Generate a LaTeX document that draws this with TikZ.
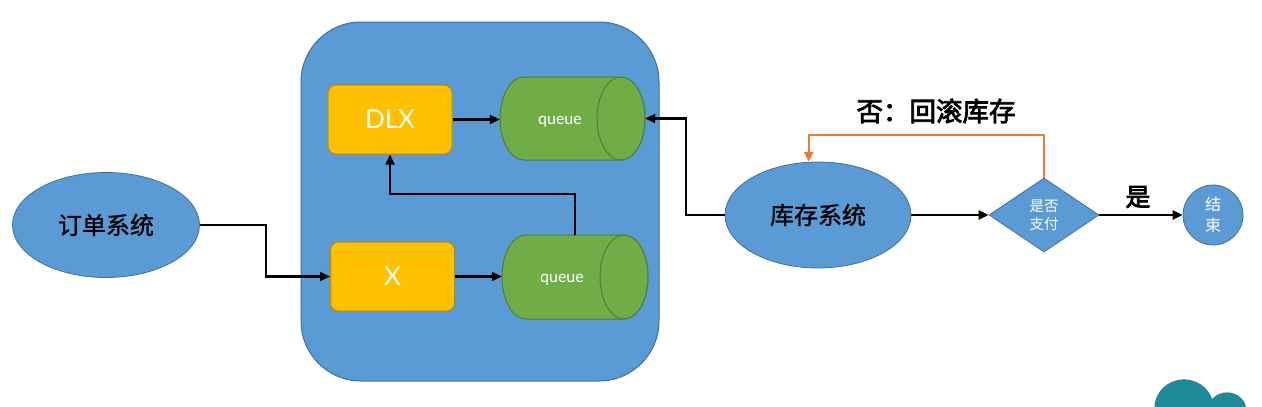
\documentclass[tikz,border=0pt]{standalone}
\usepackage{fontspec}
\setmainfont{Lato}
\newfontfamily\cjk{Noto Sans CJK SC}
\newfontfamily\cjkm{Noto Sans CJK SC}[FakeBold=1.2]
\newfontfamily\cjkb{Noto Sans CJK SC}[FakeBold=3]
\usetikzlibrary{shapes.geometric,arrows.meta,calc}
\definecolor{bfill}{HTML}{5B9BD5}
\definecolor{bdraw}{HTML}{41719C}
\definecolor{yfill}{HTML}{FFC000}
\definecolor{ydraw}{HTML}{BC8C00}
\definecolor{gfill}{HTML}{70AD47}
\definecolor{gdraw}{HTML}{507E32}
\definecolor{ocol}{HTML}{ED7D31}
\definecolor{teal}{HTML}{1F8A9A}
\begin{document}
\begin{tikzpicture}[x=1pt,y=-1pt,
  sysell/.style={ellipse, draw=bdraw, fill=bfill, line width=0.8pt, inner sep=0pt},
  ybox/.style={rectangle, rounded corners=8pt, draw=ydraw, fill=yfill, line width=1pt,
    minimum width=124pt, minimum height=69pt, inner sep=0pt, text=white, font=\fontsize{26}{28}\selectfont},
  cyl/.style={draw=gdraw, fill=gfill, line width=1pt},
  qtext/.style={text=white, font=\fontsize{16}{18}\selectfont},
  conn/.style={line width=2.1pt, -{Triangle[length=10pt,width=9pt]}},
  anchorbox/.style={rectangle, inner sep=0pt, minimum width=145pt, minimum height=83pt}
]
\useasboundingbox (0,0) rectangle (1262,407);

% big container
\node (box) [rectangle, rounded corners=60pt, draw=bdraw, fill=bfill, line width=1pt,
  minimum width=358pt, minimum height=359pt] at (480,201.5) {};

% DLX and X
\node (dlx) [ybox] at (390,119.5) {DLX};
\node (x) [ybox] at (392.5,276.5) {X};

% queue top
\path[cyl] (524,77) -- (621,77) arc[start angle=-90,end angle=90,x radius=24,y radius=41.5]
  -- (524,160) arc[start angle=90,end angle=270,x radius=24,y radius=41.5] -- cycle;
\draw[cyl] (621,118.5) ellipse [x radius=24, y radius=41.5];
\node (q1) [anchorbox] at (572.5,118.5) {};
\node (q1t) [qtext] at (560,122) {queue};

% queue bottom
\path[cyl] (526,235) -- (624,235) arc[start angle=-90,end angle=90,x radius=24,y radius=42]
  -- (526,319) arc[start angle=90,end angle=270,x radius=24,y radius=42] -- cycle;
\draw[cyl] (624,277) ellipse [x radius=24, y radius=42];
\node (q2) [anchorbox, minimum width=146pt, minimum height=84pt] at (575,277) {};
\node (q2t) [qtext] at (562,280) {queue};

% systems
\node (ord) [sysell, minimum width=187pt, minimum height=105pt] at (106,225)
  {\cjkm\fontsize{24}{26}\selectfont 订单系统};
\node (kc) [sysell, minimum width=186pt, minimum height=106pt] at (818,215)
  {\cjkm\fontsize{24}{26}\selectfont 库存系统};

% diamond
\node (dia) [diamond, draw=bdraw, fill=bfill, line width=0.8pt, inner sep=0pt,
  minimum width=110pt, minimum height=74pt, text=white, align=center,
  font=\cjk\fontsize{14.5}{18}\selectfont] at (1044,215) {是否\\支付};

% end circle
\node (end) [circle, draw=bdraw, fill=bfill, line width=0.8pt, minimum size=60pt, inner sep=0pt,
  text=white, align=center, font=\cjk\fontsize{16}{21}\selectfont] at (1213,215) {结\\束};

% connectors
\draw[conn] (ord.east) -- ++(66,0) |- (x.west);
\draw[conn] (x.east) -- (x.east -| q2.west);
\draw[conn] (dlx.east) -- (dlx.east -| q1.west);
\draw[conn] (q2.north) -- ++(0,-41) -| (dlx.south);
\draw[conn] (kc.west) -- ++(-39,0) |- (q1.east);
\draw[conn] (kc.east) -- (dia.west);
\draw[conn] (dia.east) -- (end.west);
\draw[line width=2.1pt, ocol, -{Triangle[length=10pt,width=9pt]}] (dia.north) -- ++(0,-43) -| (kc.100);

% labels
\node (lno) [font=\cjkb\fontsize{26.5}{29}\selectfont] at (936,111) {否：回滚库存};
\node (lyes) [font=\cjkb\fontsize{25}{28}\selectfont] at (1138,197) {是};

% cloud (bottom right)
\begin{scope}
\clip (1140,360) rectangle (1262,406);
\draw[bdraw, line width=1.2pt] (1184,408) ellipse [x radius=29, y radius=28];
\draw[bdraw, line width=1.2pt] (1227,411) ellipse [x radius=19, y radius=18];
\fill[teal] (1184,408) ellipse [x radius=29, y radius=28];
\fill[teal] (1227,411) ellipse [x radius=19, y radius=18];
\end{scope}
\end{tikzpicture}
\end{document}
